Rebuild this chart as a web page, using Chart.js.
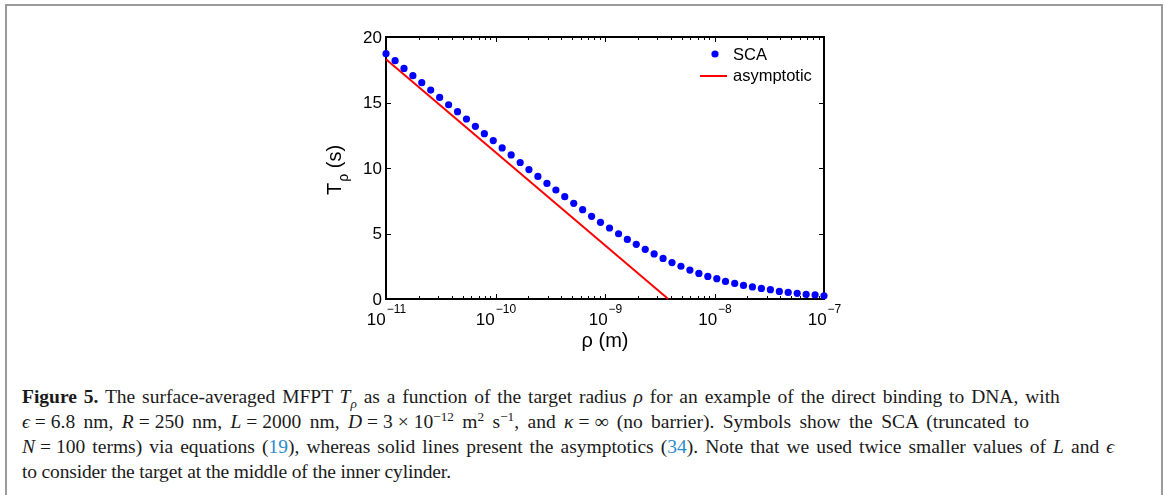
<!DOCTYPE html>
<html>
<head>
<meta charset="utf-8">
<script src="https://cdn.jsdelivr.net/npm/chart.js@4.4.1/dist/chart.umd.min.js"></script>
<style>
  html, body { margin: 0; padding: 0; background: #fff; }
  body { width: 1165px; height: 495px; position: relative; overflow: hidden; }
  #frame { position: absolute; left: 5px; top: 4px; width: 1154px; height: 520px;
           border: 2px solid #9a9a9a; border-bottom: none; }
  #myChart { position: absolute; left: 0; top: 0; }
  .cap { position: absolute; left: 22px; top: 384px; font-family: "Liberation Serif", "DejaVu Serif", serif;
         font-size: 19.5px; color: #1a1a1a; }
  .cap .l { white-space: nowrap; height: 25px; line-height: 25px; }
  .cap .w1 { word-spacing: 2px; }
  .cap .w2 { word-spacing: 3.5px; }
  .cap .w3 { word-spacing: 2.2px; }
  .cap .w4 { letter-spacing: -0.15px; }
  .cap .op { margin: 0 5px; }
  .cap sup, .cap sub { font-size: 68%; line-height: 0; }
  .cap .ref { color: #2a8ccc; }
</style>
</head>
<body>
<div id="frame"></div>
<canvas id="myChart" width="1165" height="370"></canvas>
<div class="cap">
  <div class="l w1"><b>Figure 5.</b> The surface-averaged MFPT <i>T</i><sub><i>ρ</i></sub> as a function of the target radius <i>ρ</i> for an example of the direct binding to DNA, with</div>
  <div class="l w2"><i>ϵ</i><span class="op">=</span>6.8 nm, <i>R</i><span class="op">=</span>250 nm, <i>L</i><span class="op">=</span>2000 nm, <i>D</i><span class="op">=</span>3<span class="op">×</span>10<sup>−12</sup> m<sup>2</sup> s<sup>−1</sup>, and <i>κ</i><span class="op">=</span>∞ (no barrier). Symbols show the SCA (truncated to</div>
  <div class="l w3"><i>N</i><span class="op">=</span>100 terms) via equations (<span class="ref">19</span>), whereas solid lines present the asymptotics (<span class="ref">34</span>). Note that we used twice smaller values of <i>L</i> and <i>ϵ</i></div>
  <div class="l w4">to consider the target at the middle of the inner cylinder.</div>
</div>
<script>
// radio del blanco (m), puntos SCA
const rho = [
  1.00e-11, 1.21e-11, 1.46e-11, 1.76e-11, 2.12e-11, 2.56e-11, 3.09e-11, 3.73e-11, 4.50e-11, 5.43e-11,
  6.55e-11, 7.91e-11, 9.54e-11, 1.15e-10, 1.39e-10, 1.68e-10, 2.02e-10, 2.44e-10, 2.95e-10, 3.56e-10,
  4.29e-10, 5.18e-10, 6.25e-10, 7.54e-10, 9.10e-10, 1.10e-9, 1.33e-9, 1.60e-9, 1.93e-9, 2.33e-9,
  2.81e-9, 3.39e-9, 4.09e-9, 4.94e-9, 5.96e-9, 7.20e-9, 8.69e-9, 1.05e-8, 1.26e-8, 1.53e-8,
  1.84e-8, 2.22e-8, 2.68e-8, 3.24e-8, 3.91e-8, 4.71e-8, 5.69e-8, 6.87e-8, 8.29e-8, 1.00e-7
];
const tSCA = [
  18.73, 18.19, 17.60, 17.05, 16.51, 15.95, 15.39, 14.83, 14.30, 13.74,
  13.18, 12.62, 12.09, 11.53, 11.00, 10.42, 9.88, 9.36, 8.82, 8.32,
  7.81, 7.30, 6.82, 6.31, 5.85, 5.42, 4.98, 4.55, 4.17, 3.79,
  3.44, 3.10, 2.78, 2.50, 2.21, 1.95, 1.72, 1.55, 1.34, 1.19,
  1.04, 0.92, 0.81, 0.71, 0.58, 0.50, 0.43, 0.35, 0.31, 0.25
];
// asintotica (recta en escala log)
const rhoAsym = [1e-11, 3.78e-9];
const tAsym = [18.3, 0];

const yTicks = [0, 5, 10, 15, 20];
const xDecades = [-11, -10, -9, -8, -7];
const minorMult = [2, 3, 4, 5, 6, 7, 8, 9];
const legendLabels = ['SCA', 'asymptotic'];

const SANS = '"Liberation Sans", Arial, sans-serif';

const boxAxes = {
  id: 'boxAxes',
  beforeDatasetsDraw(chart) {
    const { ctx, chartArea: a, scales: { x, y } } = chart;
    ctx.save();
    ctx.strokeStyle = '#000';
    ctx.lineWidth = 2;
    ctx.strokeRect(a.left, a.top, a.right - a.left, a.bottom - a.top);

    ctx.lineWidth = 1;
    ctx.beginPath();
    // ticks y (adentro, ambos lados)
    yTicks.forEach(v => {
      const py = Math.round(y.getPixelForValue(v)) + 0.5;
      ctx.moveTo(a.left, py); ctx.lineTo(a.left + 5, py);
      ctx.moveTo(a.right, py); ctx.lineTo(a.right - 5, py);
    });
    // ticks x mayores y menores
    xDecades.forEach((d, i) => {
      const px = Math.round(x.getPixelForValue(Math.pow(10, d))) + 0.5;
      ctx.moveTo(px, a.bottom); ctx.lineTo(px, a.bottom - 5);
      ctx.moveTo(px, a.top); ctx.lineTo(px, a.top + 5);
      if (i < xDecades.length - 1) {
        minorMult.forEach(m => {
          const mx = Math.round(x.getPixelForValue(m * Math.pow(10, d))) + 0.5;
          ctx.moveTo(mx, a.bottom); ctx.lineTo(mx, a.bottom - 3);
          ctx.moveTo(mx, a.top); ctx.lineTo(mx, a.top + 3);
        });
      }
    });
    ctx.stroke();

    // etiquetas y
    ctx.fillStyle = '#000';
    ctx.font = '17px ' + SANS;
    ctx.textAlign = 'right';
    ctx.textBaseline = 'middle';
    yTicks.forEach(v => ctx.fillText(String(v), a.left - 4, y.getPixelForValue(v) + 1));

    // etiquetas x: 10 con exponente
    ctx.textBaseline = 'alphabetic';
    xDecades.forEach(d => {
      const px = x.getPixelForValue(Math.pow(10, d));
      const exp = '\u2212' + Math.abs(d);
      ctx.font = '17px ' + SANS;
      const wb = ctx.measureText('10').width;
      ctx.font = '12px ' + SANS;
      const we = ctx.measureText(exp).width;
      const x0 = px - (wb + we) / 2;
      ctx.textAlign = 'left';
      ctx.font = '17px ' + SANS;
      ctx.fillText('10', x0, a.bottom + 26);
      ctx.font = '12px ' + SANS;
      ctx.fillText(exp, x0 + wb + 1, a.bottom + 14);
    });

    // titulo x
    ctx.font = '20px ' + SANS;
    ctx.textAlign = 'center';
    ctx.textBaseline = 'alphabetic';
    ctx.fillText('\u03c1 (m)', (a.left + a.right) / 2, a.bottom + 48);

    // titulo y: T_rho (s) girado
    ctx.save();
    ctx.translate(a.left - 45, (a.top + a.bottom) / 2 + 27);
    ctx.rotate(-Math.PI / 2);
    ctx.textAlign = 'left';
    ctx.font = '20px ' + SANS;
    ctx.fillText('T', 0, 0);
    let w = ctx.measureText('T').width;
    ctx.font = '14px ' + SANS;
    ctx.fillText('\u03c1', w + 1, 7);
    w += ctx.measureText('\u03c1').width + 1;
    ctx.font = '20px ' + SANS;
    ctx.fillText(' (s)', w, 0);
    ctx.restore();
    ctx.restore();
  },
  afterDatasetsDraw(chart) {
    // leyenda dentro del area
    const { ctx, chartArea: a } = chart;
    const ds = chart.data.datasets;
    const tx = a.right - 91;
    ctx.save();
    ctx.fillStyle = ds[0].backgroundColor;
    ctx.beginPath();
    ctx.arc(a.right - 109, a.top + 17, 3.6, 0, Math.PI * 2);
    ctx.fill();
    ctx.strokeStyle = ds[1].borderColor;
    ctx.lineWidth = 2;
    ctx.beginPath();
    ctx.moveTo(a.right - 124, a.top + 39);
    ctx.lineTo(a.right - 97, a.top + 39);
    ctx.stroke();
    ctx.fillStyle = '#000';
    ctx.font = '16.5px ' + SANS;
    ctx.textAlign = 'left';
    ctx.textBaseline = 'middle';
    ctx.fillText(legendLabels[0], tx, a.top + 18);
    ctx.fillText(legendLabels[1], tx, a.top + 39);
    ctx.restore();
  }
};

const config = {
  type: 'scatter',
  data: {
    datasets: [{
      label: legendLabels[0],
      data: rho.map((r, i) => ({ x: r, y: tSCA[i] })),
      backgroundColor: '#0000ff',
      borderWidth: 0,
      pointRadius: 3.6,
      showLine: false,
      clip: false
    }, {
      label: legendLabels[1],
      data: rhoAsym.map((r, i) => ({ x: r, y: tAsym[i] })),
      borderColor: '#ff0000',
      backgroundColor: '#ff0000',
      borderWidth: 2,
      pointRadius: 0,
      showLine: true,
      clip: false
    }]
  },
  options: {
    responsive: false,
    animation: false,
    layout: { padding: { left: 386, top: 37, right: 341, bottom: 71 } },
    plugins: { legend: { display: false }, tooltip: { enabled: false } },
    scales: {
      x: { type: 'logarithmic', min: 1e-11, max: 1e-7, display: false },
      y: { type: 'linear', min: 0, max: 20, display: false }
    }
  },
  plugins: [boxAxes]
};

new Chart(document.getElementById('myChart').getContext('2d'), config);
</script>
</body>
</html>
